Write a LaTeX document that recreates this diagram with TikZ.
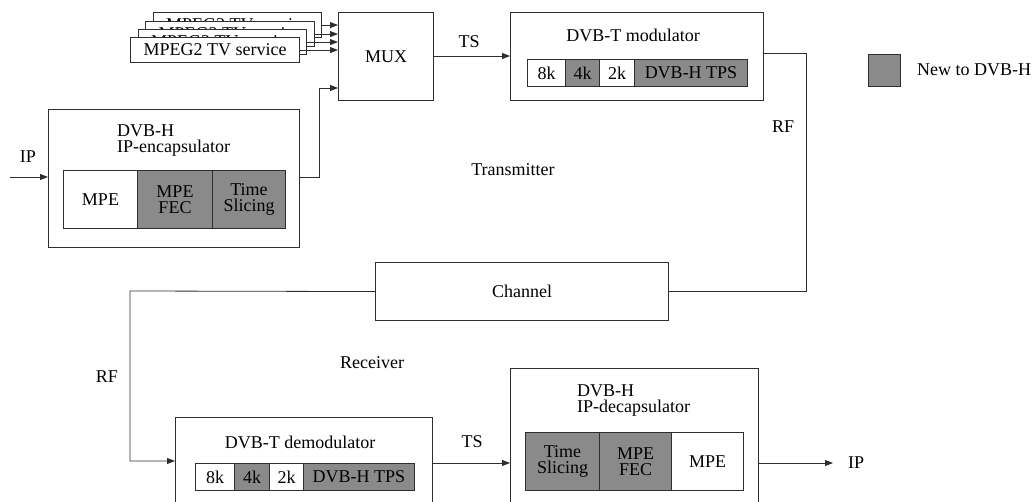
\documentclass[tikz,border=0pt]{standalone}
\usepackage{fontspec}
\setmainfont{Liberation Serif}
\usetikzlibrary{arrows.meta}
\definecolor{ln}{HTML}{2E2E2E}
\definecolor{gr}{HTML}{8A8A8A}
\begin{document}
\begin{tikzpicture}[x=1pt,y=-1pt,
 font=\fontsize{18}{16}\selectfont,
 box/.style={draw=ln,line width=1.1pt,fill=white,anchor=north west,inner sep=0pt,align=center},
 cellw/.style={box,line width=1pt},
 cellg/.style={box,line width=1pt,fill=gr},
 conn/.style={draw=ln,line width=0.8pt},
 arr/.style={conn,-{Triangle[length=8pt,width=6pt]}},
 lbl/.style={inner sep=0pt,text=black}]
\useasboundingbox (0,0) rectangle (1033,502);
\clip (0,0) rectangle (1033,502);

% MPEG2 stack
\node[box,minimum width=168pt,minimum height=25pt] (m1) at (153,12) {MPEG2 TV service};
\node[box,minimum width=169pt,minimum height=25pt] (m2) at (145,21) {MPEG2 TV service};
\node[box,minimum width=168pt,minimum height=25pt] (m3) at (138,29) {MPEG2 TV service};
\node[box,minimum width=169pt,minimum height=25pt] (m4) at (130,37) {MPEG2 TV service};

% MUX
\node[box,minimum width=95pt,minimum height=88pt] (mux) at (338,12) {MUX};
\foreach \m in {m1,m2,m3,m4}{\draw[arr] (\m.east) -- (\m.east -| mux.west);}

% Encapsulator
\node[box,minimum width=251pt,minimum height=138pt] (enc) at (48,109) {};
\node[lbl,anchor=base west] (enct1) at (117,137) {DVB-H};
\node[lbl,anchor=base west] (enct2) at (117,153) {IP-encapsulator};
\node[cellw,minimum width=74pt,minimum height=58pt] (e1) at (63,170) {MPE};
\node[cellg,minimum width=75pt,minimum height=58pt] (e2) at (137,170) {MPE\\FEC};
\node[cellg,minimum width=73pt,minimum height=58pt] (e3) at (212,170) {Time\\Slicing};
\coordinate (ipin) at (10,177);
\draw[arr] (ipin) -- (ipin -| enc.west);
\node[lbl] (iplbl) at (28,157) {IP};
\coordinate (encout) at (319,177);
\coordinate (muxin) at (338,88);
\draw[arr] (encout -| enc.east) -- (encout) |- (muxin);

% Modulator
\node[box,minimum width=253pt,minimum height=88pt] (mod) at (510,12) {};
\node[lbl] (modt) at (633,35) {DVB-T modulator};
\node[cellw,minimum width=38pt,minimum height=27pt] (c1) at (527,59) {8k};
\node[cellg,minimum width=34pt,minimum height=27pt] (c2) at (565,59) {4k};
\node[cellw,minimum width=35pt,minimum height=27pt] (c3) at (599,59) {2k};
\node[cellg,minimum width=113pt,minimum height=27pt] (c4) at (634,59) {DVB-H TPS};
\coordinate (tsa) at (433,56);
\draw[arr] (tsa) -- (tsa -| mod.west);
\node[lbl] (ts1) at (469,42) {TS};

% Channel
\node[box,minimum width=293pt,minimum height=58pt] (ch) at (375,262) {Channel};
\coordinate (rf1) at (806,53);
\draw[conn] (rf1 -| mod.east) -- (rf1) |- (ch.east);
\node[lbl] (rflbl1) at (783,127) {RF};
\node[lbl] (tx) at (513,170) {Transmitter};
\node[lbl] (rx) at (372,363) {Receiver};

% Demodulator
\node[box,minimum width=257pt,minimum height=110pt] (dem) at (175,417) {};
\node[lbl] (demt) at (300,442) {DVB-T demodulator};
\node[cellw,minimum width=39pt,minimum height=27pt] (d1) at (195,463) {8k};
\node[cellg,minimum width=35pt,minimum height=27pt] (d2) at (234,463) {4k};
\node[cellw,minimum width=34pt,minimum height=27pt] (d3) at (269,463) {2k};
\node[cellg,minimum width=111pt,minimum height=27pt] (d4) at (303,463) {DVB-H TPS};
\coordinate (rf2a) at (130,291);
\coordinate (rf2b) at (130,461);
\draw[arr] (ch.west) -- (rf2a) -- (rf2b) -- (rf2b -| dem.west);
\node[lbl] (rflbl2) at (107,377) {RF};

% Decapsulator
\node[box,minimum width=248pt,minimum height=150pt] (dec) at (510,368) {};
\node[lbl,anchor=base west] (dect1) at (577,396) {DVB-H};
\node[lbl,anchor=base west] (dect2) at (577,412) {IP-decapsulator};
\node[cellg,minimum width=74pt,minimum height=58pt] (f1) at (525,432) {Time\\Slicing};
\node[cellg,minimum width=72pt,minimum height=58pt] (f2) at (599,432) {MPE\\FEC};
\node[cellw,minimum width=72pt,minimum height=58pt] (f3) at (671,432) {MPE};
\coordinate (tsb) at (432,463);
\draw[arr] (tsb) -- (tsb -| dec.west);
\node[lbl] (ts2) at (472,442) {TS};
\coordinate (ipout) at (833,463);
\draw[arr] (ipout -| dec.east) -- (ipout);
\node[lbl,anchor=west] (ipo) at (848,463) {IP};

% Legend
\node[cellg,minimum width=32pt,minimum height=32pt] (leg) at (868,54) {};
\node[lbl,anchor=west] (legt) at (917,70) {New to DVB-H};
\end{tikzpicture}
\end{document}
